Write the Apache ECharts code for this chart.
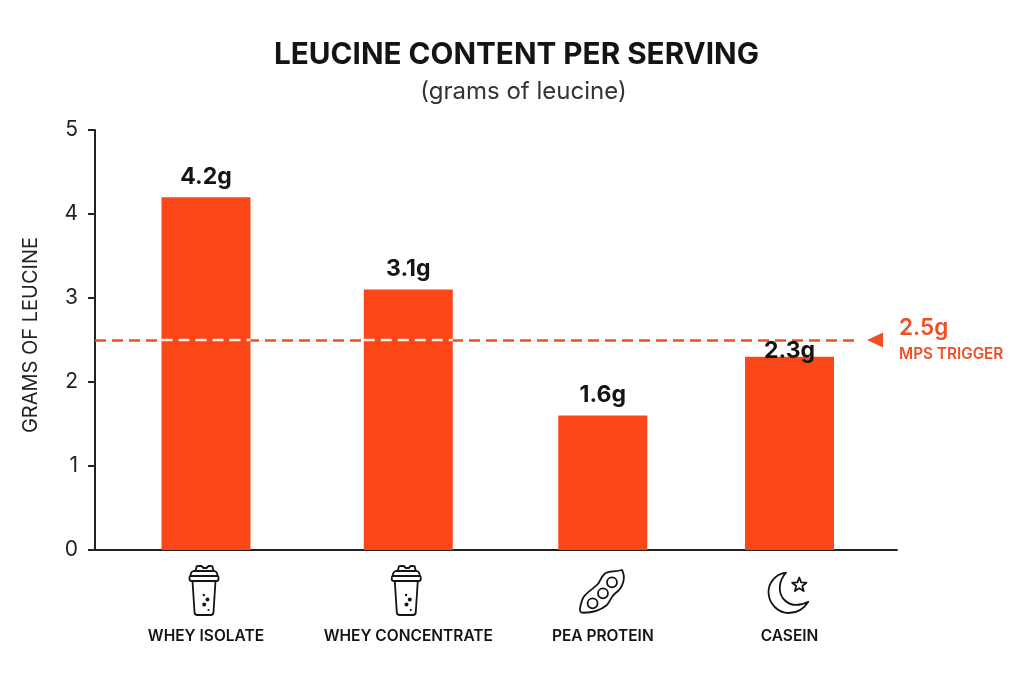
<!DOCTYPE html>
<html>
<head>
<meta charset="utf-8">
<style>html,body{margin:0;padding:0;background:#fff}#chart{width:1024px;height:683px}</style>
<script src="https://cdn.jsdelivr.net/npm/echarts@6/dist/echarts.min.js"></script>
</head>
<body>
<div id="chart"></div>
<script>
// Leucine per serving, by protein source
const categories = ['WHEY ISOLATE', 'WHEY CONCENTRATE', 'PEA PROTEIN', 'CASEIN'];
const leucineGrams = [4.2, 3.1, 1.6, 2.3];
const slots = [1, 2.04, 3.04, 4];
const iconNames = ['shaker', 'shaker', 'pod', 'moon'];
const yTicks = [0, 1, 2, 3, 4, 5];
const triggerGrams = 2.5;

const ORANGE = '#fb4718';
const ACCENT = '#f04e23';
const INK = '#141414';
const FONT = 'Inter, Roboto, "Liberation Sans", sans-serif';
const BAR_WIDTH = 89;
const X_MIN = 0.4293;
const X_MAX = 4.5527;

function starPath(cx, cy, R, r) {
  let d = '';
  for (let i = 0; i < 10; i++) {
    const rad = i % 2 ? r : R;
    const a = -Math.PI / 2 + i * Math.PI / 5;
    d += (i ? 'L' : 'M') + (cx + rad * Math.cos(a)).toFixed(2) + ' ' + (cy + rad * Math.sin(a)).toFixed(2);
  }
  return d + 'Z';
}
function circlePath(cx, cy, r) {
  return 'M' + (cx - r) + ' ' + cy + 'A' + r + ' ' + r + ' 0 1 0 ' + (cx + r) + ' ' + cy +
         'A' + r + ' ' + r + ' 0 1 0 ' + (cx - r) + ' ' + cy + 'Z';
}

// Line icons, relative to the point where each slot meets the x axis
const iconStroke = {
  shaker:
    'M-9 21L-8 17Q-8 16 -6 16L-3 16L-1 18L2 18L4 16L6 16Q8 16 8 17L9 21' +
    'M-11 21L10 21Q13 22 13 26L-14 26Q-14 22 -11 21Z' +
    'M-14 26L13 26Q14 26 14 28L14 29Q14 31 12 31L-13 31Q-15 31 -15 29L-15 28Q-15 26 -14 26Z' +
    'M-12 31L-10 62Q-10 65 -7 65L6 65Q9 65 9 62L11 31',
  pod:
    'M19.2 20C23 27 21 37 12.5 43.3C8 47 8 50 4.2 55C-2 60 -12 63 -20.8 62.7' +
    'C-23 62 -23 59 -22.5 56.7C-21 50 -20 47 -17.5 45C-12 39 -8 38 -4.2 33.3C-2 29 -1 26 2.5 23.3C7 21 13 22 19.2 20Z' +
    circlePath(9.2, 32.3, 5) + circlePath(0.2, 43.3, 5) + circlePath(-10.2, 53.3, 5),
  moon:
    'M-3.5 22.7C-14 24 -21 33 -21 42C-21 54 -11 63 -1 63C8 63 15 58 18.8 51.7' +
    'C10 56 1 56 -5 50C-12 43 -11 31 -3.5 22.7Z' + starPath(9.8, 35, 7.5, 3.2)
};
const iconDots = {
  shaker: [[-0.7, 45, 1.2], [3, 49.5, 2], [-0.3, 54.5, 2], [4, 60, 1.1]]
};
const iconShift = { shaker: -1.5, pod: 0, moon: 0 };

// A value just under the threshold keeps its label below the dashed line
const barData = slots.map((s, i) => {
  const v = leucineGrams[i];
  const crowded = v < triggerGrams && triggerGrams - v < 0.4;
  return crowded ? { value: [s, v], label: { offset: [0, 15] } } : { value: [s, v] };
});

const chart = echarts.init(document.getElementById('chart'));
chart.setOption({
  animation: false,
  backgroundColor: '#ffffff',
  title: [
    { text: 'LEUCINE CONTENT PER SERVING', left: 511.5, top: 35, textAlign: 'center',
      textStyle: { fontFamily: FONT, fontSize: 29.7, fontWeight: 700, color: INK } },
    { text: '(grams of leucine)', left: 518.5, top: 75, textAlign: 'center',
      textStyle: { fontFamily: FONT, fontSize: 24, fontWeight: 400, color: '#333' } }
  ],
  grid: { left: 95, right: 127, top: 130, bottom: 133 },
  xAxis: {
    type: 'value', min: X_MIN, max: X_MAX,
    splitLine: { show: false },
    axisLine: { show: true, lineStyle: { color: '#222', width: 2 } },
    axisTick: { show: false },
    axisLabel: {
      customValues: slots,
      margin: 78,
      fontFamily: FONT, fontSize: 15.5, fontWeight: 600, color: INK,
      formatter: v => categories[slots.indexOf(v)]
    }
  },
  yAxis: {
    type: 'value', min: yTicks[0], max: yTicks[yTicks.length - 1], interval: 1,
    splitLine: { show: false },
    axisLine: { show: true, lineStyle: { color: '#222', width: 2 } },
    axisTick: { show: true, length: 7, lineStyle: { color: '#222', width: 2 } },
    axisLabel: { margin: 17, fontFamily: FONT, fontSize: 21, color: '#222' },
    name: 'GRAMS OF LEUCINE', nameLocation: 'middle', nameRotate: 90, nameGap: 54,
    nameTextStyle: { fontFamily: FONT, fontSize: 20, color: '#222', padding: [0, 0, 0, 10] }
  },
  series: [
    {
      // Threshold line and its marker, beneath the bars
      type: 'line', z: 1, data: [], silent: true,
      markLine: {
        silent: true, symbol: 'none', z: 1, animation: false,
        lineStyle: { color: ACCENT, type: [11, 6], width: 2.5 },
        label: { show: false },
        data: [[{ coord: [X_MIN, triggerGrams] }, { coord: [4.357, triggerGrams] }]]
      },
      markPoint: {
        silent: true, symbol: 'triangle', symbolSize: [15, 16], symbolRotate: 90,
        itemStyle: { color: ACCENT },
        data: [{
          coord: [4.44, triggerGrams],
          label: {
            show: true, position: 'right', distance: 16, align: 'left',
            formatter: '{a|' + triggerGrams.toFixed(1) + 'g}\n{b|MPS TRIGGER}',
            rich: {
              a: { fontFamily: FONT, fontSize: 22.5, fontWeight: 600, color: ACCENT, lineHeight: 28 },
              b: { fontFamily: FONT, fontSize: 15.3, fontWeight: 600, color: ACCENT, lineHeight: 24 }
            }
          }
        }]
      }
    },
    {
      type: 'bar', z: 2, barWidth: BAR_WIDTH, silent: true,
      itemStyle: { color: ORANGE },
      label: {
        show: true, position: 'top', distance: 9,
        fontFamily: FONT, fontSize: 23, fontWeight: 700, color: INK,
        formatter: p => p.value[1].toFixed(1) + 'g'
      },
      data: barData
    },
    {
      // The same threshold turns white where it crosses a taller bar
      type: 'custom', z: 3, silent: true, clip: false,
      data: slots.map((s, i) => [s, leucineGrams[i]]).filter(d => d[1] > triggerGrams),
      encode: { x: 0, y: 1 },
      renderItem: (params, api) => {
        const p = api.coord([api.value(0), triggerGrams]);
        return {
          type: 'line',
          shape: { x1: p[0] - BAR_WIDTH / 2, y1: p[1], x2: p[0] + BAR_WIDTH / 2, y2: p[1] },
          style: { stroke: '#fff1ea', lineWidth: 2.5, lineDash: [11, 6] }
        };
      }
    },
    {
      // Source icons between the axis and the category names
      type: 'custom', z: 4, silent: true, clip: false,
      data: slots.map((s, i) => [s, 0, i]),
      encode: { x: 0, y: 1 },
      renderItem: (params, api) => {
        const name = iconNames[api.value(2)];
        const p = api.coord([api.value(0), 0]);
        const children = [{
          type: 'path',
          shape: { pathData: iconStroke[name] },
          style: { fill: 'none', stroke: INK, lineWidth: 1.8, lineJoin: 'round' }
        }];
        (iconDots[name] || []).forEach(d => children.push({
          type: 'circle', shape: { cx: d[0], cy: d[1], r: d[2] }, style: { fill: INK }
        }));
        return { type: 'group', x: p[0] + iconShift[name], y: p[1], children };
      }
    }
  ]
});
</script>
</body>
</html>
